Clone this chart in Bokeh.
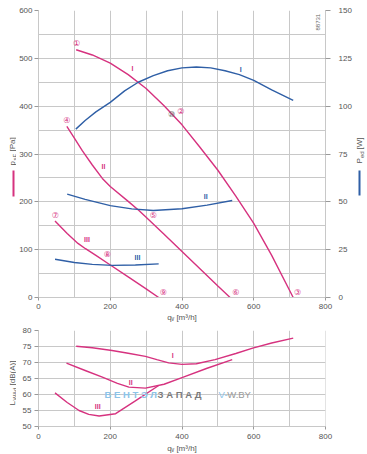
import math
from bokeh.plotting import figure
from bokeh.models import Range1d, LinearAxis, FixedTicker, Label, BoxAnnotation
from bokeh.layouts import column, row
from bokeh.embed import file_html
from bokeh.resources import INLINE

# ---------------- data ----------------
# pressure curves p_sF [Pa] vs q_v [m3/h]
q_p1 = [105, 150, 200, 250, 300, 350, 400, 450, 500, 550, 600, 650, 710]
p_p1 = [518, 507, 490, 466, 437, 401, 361, 314, 266, 212, 155, 88, 0]
q_p2 = [79, 100, 122, 150, 178, 200, 250, 280, 300, 350, 400, 450, 500, 534]
p_p2 = [358, 333, 307, 277, 249, 232, 201, 182, 168, 132, 96, 60, 24, 0]
q_p3 = [46, 80, 110, 131, 160, 196, 250, 300, 335]
p_p3 = [160, 134, 113, 102, 88, 70, 43, 18, 0]

# power curves P_ed [W]
q_w1 = [104, 130, 160, 200, 240, 278, 320, 360, 400, 440, 480, 520, 560, 600, 650, 710]
w_1 = [88, 92.5, 97, 102, 108, 112.5, 116, 118.5, 120, 120.5, 120, 118.5, 116.5, 113.5, 108.5, 103]
q_w2 = [80, 130, 200, 260, 320, 400, 470, 540]
w_2 = [54, 51.3, 48, 46.3, 45.5, 46.4, 48.3, 50.7]
q_w3 = [46, 100, 150, 206, 270, 335]
w_3 = [20, 18.3, 17.3, 16.8, 17, 17.6]

# sound power L_WAd [dB(A)]
q_l1 = [105, 150, 205, 250, 298, 330, 363, 400, 440, 492, 550, 597, 650, 710]
l_1 = [75.1, 74.6, 73.75, 72.9, 71.9, 70.9, 69.9, 69.4, 69.6, 70.9, 72.8, 74.5, 76.1, 77.6]
q_l2 = [78, 130, 178, 220, 252, 298, 350, 400, 470, 540]
l_2 = [69.8, 67.5, 65.4, 63.5, 62.3, 62.0, 63.2, 65.3, 68.2, 70.9]
q_l3 = [46, 80, 113, 140, 169, 215, 270, 335]
l_3 = [60.5, 57.5, 55, 53.8, 53.3, 54, 58, 62.8]

x_ticks = [0, 200, 400, 600, 800]
x_grid = [0, 100, 200, 300, 400, 500, 600, 700, 800]
p_ticks = [0, 100, 200, 300, 400, 500, 600]
p_grid = [0, 50, 100, 150, 200, 250, 300, 350, 400, 450, 500, 550, 600]
w_ticks = [0, 25, 50, 75, 100, 125, 150]
l_ticks = [50, 55, 60, 65, 70, 75, 80]

PINK = "#d6327f"
BLUE = "#2f5fa6"
GRID = "#c8c8c8"
TXT = "#555555"
FONT = "Liberation Sans"
UP = math.pi / 2


def style_axis(ax, ticks, tick_out=4, standoff=4):
    ax.ticker = FixedTicker(ticks=ticks)
    ax.axis_line_color = GRID
    ax.major_tick_line_color = "#999999"
    ax.major_tick_out = tick_out
    ax.major_tick_in = 0
    ax.minor_tick_line_color = None
    ax.major_label_text_font = FONT
    ax.major_label_text_font_size = "8px"
    ax.major_label_text_color = TXT
    ax.major_label_standoff = standoff
    ax.axis_label_text_font = FONT
    ax.axis_label_text_font_size = "8px"
    ax.axis_label_text_color = TXT
    ax.axis_label_text_font_style = "normal"


def rlabel(p, text, sx, sy, color=TXT, size="8px", angle=0.0, font=FONT, align="left"):
    p.add_layout(Label(x=sx, y=sy, x_units="screen", y_units="screen", text=text,
                       text_font=font, text_font_size=size, text_color=color,
                       angle=angle, text_align=align, text_baseline="middle"))


def dlabel(p, text, x, y, color, size="8px", font=FONT, bold=False, align="center",
           y_range_name="default"):
    p.add_layout(Label(x=x, y=y, text=text, text_font=font, text_font_size=size,
                       text_color=color, text_align=align, text_baseline="middle",
                       text_font_style="bold" if bold else "normal",
                       y_range_name=y_range_name))


def box(p, left, right, bottom, top, color):
    p.add_layout(BoxAnnotation(left=left, right=right, bottom=bottom, top=top,
                               left_units="screen", right_units="screen",
                               bottom_units="screen", top_units="screen",
                               fill_color=color, fill_alpha=1, line_color=None))


def strip(width, height):
    s = figure(width=width, height=height, min_border=0, x_axis_type=None, y_axis_type=None,
               x_range=Range1d(0, 1), y_range=Range1d(0, 1), output_backend="svg",
               toolbar_location=None, title=None, border_fill_color="white",
               background_fill_color="white")
    s.outline_line_color = None
    s.grid.visible = False
    return s


# ---------------- top chart ----------------
p1 = figure(frame_width=287, frame_height=287, min_border_left=20, min_border_right=27,
            min_border_top=10, min_border_bottom=25, x_range=Range1d(0, 800),
            y_range=Range1d(0, 600), output_backend="svg", toolbar_location=None,
            title=None, background_fill_color="white", border_fill_color="white")
p1.extra_y_ranges = {"w": Range1d(0, 150)}
p1.outline_line_color = None
style_axis(p1.xaxis[0], x_ticks, 3, 3)
p1.xaxis[0].axis_label = "qᵥ [m³/h]"
p1.xaxis[0].axis_label_standoff = 1
style_axis(p1.yaxis[0], p_ticks, 4, 2)
ax_r = LinearAxis(y_range_name="w")
style_axis(ax_r, w_ticks, 5, 8)
p1.add_layout(ax_r, "right")
p1.xgrid.ticker = FixedTicker(ticks=x_grid)
p1.ygrid.ticker = FixedTicker(ticks=p_grid)
for g in (p1.xgrid[0], p1.ygrid[0]):
    g.grid_line_color = GRID
    g.grid_line_width = 1

for q, pv in ((q_p1, p_p1), (q_p2, p_p2), (q_p3, p_p3)):
    p1.line(q, pv, line_color=PINK, line_width=1.4)
for q, wv in ((q_w1, w_1), (q_w2, w_2), (q_w3, w_3)):
    p1.line(q, wv, line_color=BLUE, line_width=1.4, y_range_name="w")

# circled point numbers
for t, x, y in (("①", 106, 530), ("②", 397, 389), ("③", 722, 11), ("④", 79, 370),
                ("⑤", 320, 171), ("⑥", 550, 11), ("⑦", 47, 171), ("⑧", 192, 89),
                ("⑨", 348, 11)):
    dlabel(p1, t, x, y, PINK, size="8px", font="DejaVu Sans")
dlabel(p1, "⑩", 371, 383, "#666666", size="8px", font="DejaVu Sans")

# curve names
for t, x, y in (("I", 262, 478), ("II", 181, 274), ("III", 135, 121)):
    dlabel(p1, t, x, y, PINK, size="7px", bold=True)
for t, x, y in (("I", 564, 119), ("II", 466, 53), ("III", 276, 21)):
    dlabel(p1, t, x, y, BLUE, size="7px", bold=True, y_range_name="w")

rlabel(p1, "88731", 279, 267, size="6px", angle=UP, color="#666666")

# ---------------- bottom chart ----------------
p2 = figure(frame_width=287, frame_height=96, min_border_left=20, min_border_right=27,
            min_border_top=6, min_border_bottom=30, x_range=Range1d(0, 800),
            y_range=Range1d(50, 80), output_backend="svg", toolbar_location=None,
            title=None, background_fill_color="white", border_fill_color="white")
p2.outline_line_color = None
style_axis(p2.xaxis[0], x_ticks, 3, 4)
p2.xaxis[0].axis_label = "qᵥ [m³/h]"
p2.xaxis[0].axis_label_standoff = 2
style_axis(p2.yaxis[0], l_ticks, 4, 3)
p2.xgrid.ticker = FixedTicker(ticks=x_grid)
p2.ygrid.ticker = FixedTicker(ticks=l_ticks)
for g in (p2.xgrid[0], p2.ygrid[0]):
    g.grid_line_color = GRID
    g.grid_line_width = 1
p2.line([800, 800], [50, 80], line_color=GRID, line_width=1)

# watermark
dlabel(p2, "В Е Н Т Э Л", 184, 60, "#8cc3e8", size="9.5px", bold=True, align="left")
dlabel(p2, "З А П А Д", 332, 60, "#7a7a7a", size="9.5px", bold=True, align="left")
dlabel(p2, "V-", 502, 60, "#8cc3e8", size="9.5px", align="left")
dlabel(p2, "W.BY", 526, 60, "#999999", size="9.5px", align="left")

for q, lv in ((q_l1, l_1), (q_l2, l_2), (q_l3, l_3)):
    p2.line(q, lv, line_color=PINK, line_width=1.4)
for t, x, y in (("I", 374, 72.2), ("II", 257, 63.8), ("III", 165, 56.25)):
    dlabel(p2, t, x, y, PINK, size="7px", bold=True)

# ---------------- side strips with the axis titles ----------------
H = 454
left = strip(16, H)
rlabel(left, "p", 12, H - 165, angle=UP)
rlabel(left, "sF", 14, H - 160, size="6px", angle=UP)
rlabel(left, "[Pa]", 12, H - 151, angle=UP)
box(left, 12, 14, H - 196, H - 170, PINK)
rlabel(left, "L", 12, H - 405, angle=UP)
rlabel(left, "WAd", 14, H - 400, size="6px", angle=UP)
rlabel(left, "[dB(A)]", 12, H - 385, angle=UP)

right = strip(17, H)
rlabel(right, "P", 5, H - 163, angle=UP)
rlabel(right, "ed", 7, H - 157.5, size="6px", angle=UP)
rlabel(right, "[W]", 5, H - 149, angle=UP)
box(right, 4, 6, H - 195, H - 170, BLUE)

layout = row(left, column(p1, p2), right)
open("out.html", "w").write(file_html(layout, INLINE))
